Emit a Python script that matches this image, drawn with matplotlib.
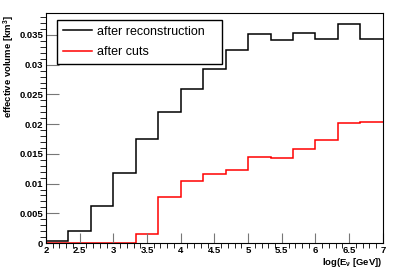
import numpy as np
import matplotlib.pyplot as plt
from matplotlib.ticker import MultipleLocator

# bin edges in log10(E/GeV): 15 bins from 2 to 7
edges = np.linspace(2, 7, 16)

reco = [0.0004, 0.0021, 0.0062, 0.0118, 0.0175, 0.0221, 0.0259, 0.0292,
        0.0324, 0.0352, 0.0342, 0.0353, 0.0344, 0.0368, 0.0344]
cuts = [0.0, 0.0, 0.0, 0.0, 0.0015, 0.0077, 0.0104, 0.0116,
        0.0123, 0.0144, 0.0143, 0.0159, 0.0174, 0.0202, 0.0204]

plt.rcParams['font.family'] = ['Liberation Sans', 'DejaVu Sans']
plt.rcParams['mathtext.fontset'] = 'custom'
plt.rcParams['mathtext.rm'] = 'Liberation Sans:bold'
plt.rcParams['mathtext.it'] = 'Liberation Sans:bold'

fig = plt.figure(figsize=(4.03, 2.71), dpi=100)
ax = fig.add_axes([0.114, 0.1033, 0.836, 0.8487])

ax.stairs(reco, edges, baseline=None, color='black', lw=1.1, label='after reconstruction')
ax.stairs(cuts, edges, baseline=None, color='#ff0000', lw=1.1, label='after cuts')

ax.set_xlim(2, 7)
ax.set_ylim(0, 0.0387)
ax.xaxis.set_major_locator(MultipleLocator(0.5))
ax.xaxis.set_minor_locator(MultipleLocator(0.1))
ax.yaxis.set_major_locator(MultipleLocator(0.005))
ax.yaxis.set_minor_locator(MultipleLocator(0.001))
ax.xaxis.set_major_formatter(lambda v, p: f'{v:g}')
ax.yaxis.set_major_formatter(lambda v, p: f'{v:g}')

ax.tick_params(direction='in', colors='#777777', labelcolor='black', labelsize=6.8, pad=2)
ax.tick_params(axis='y', which='major', length=9)
ax.tick_params(axis='y', which='minor', length=4.5)
ax.tick_params(axis='x', which='major', length=7)
ax.tick_params(axis='x', which='minor', length=3.5)
for lab in ax.get_xticklabels() + ax.get_yticklabels():
    lab.set_fontweight('bold')
for sp in ax.spines.values():
    sp.set_linewidth(0.8)

ax.set_xlabel(r'log(E$_\nu$ [GeV])', fontsize=6.8, fontweight='bold', loc='right', labelpad=1)
ax.set_ylabel(r'effective volume [km$^3$]', fontsize=6.8, fontweight='bold', loc='top')
ax.yaxis.set_label_coords(-0.086, 0.99)

leg = ax.legend(loc='upper left', bbox_to_anchor=(0.033, 0.774, 0.489, 0.196), mode='expand',
                fontsize=9, fancybox=False, framealpha=1, edgecolor='black',
                handlelength=2.3, handletextpad=0.4, borderaxespad=0,
                labelspacing=0.68, borderpad=0.46)
leg.get_frame().set_linewidth(1.0)

fig.savefig('out.png', dpi=100)
